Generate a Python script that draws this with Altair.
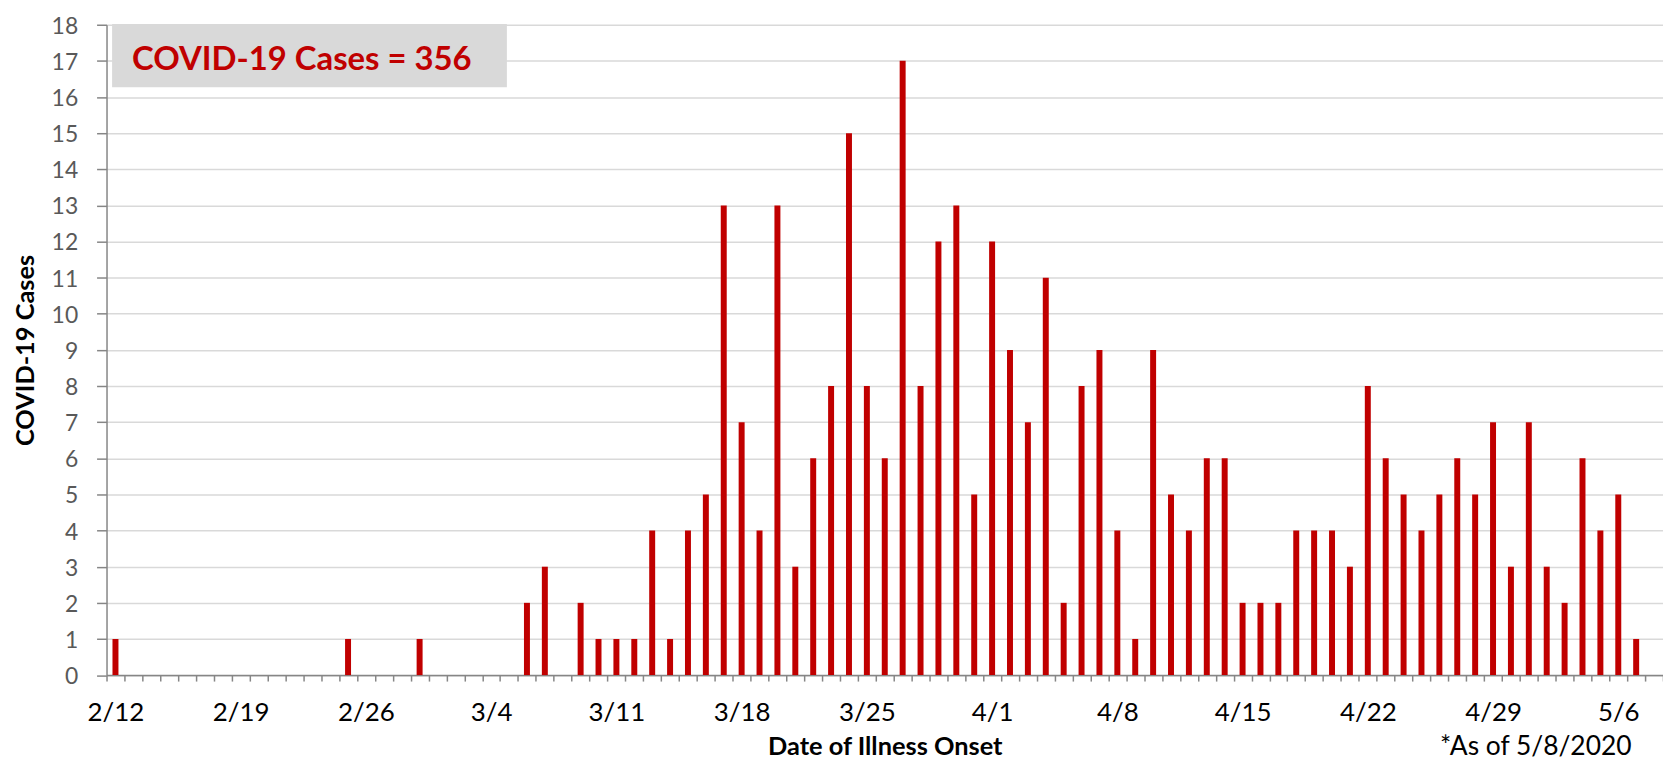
import json
import altair as alt
import pandas as pd

# Categories: date of illness onset, 2/12/2020 through 5/8/2020 (one per day)
dates = [d.strftime("%-m/%-d") for d in pd.date_range("2020-02-12", "2020-05-08", freq="D")]

# Daily case counts
cases = [
    1, 0, 0, 0, 0, 0, 0, 0, 0, 0, 0, 0, 0,          # 2/12 - 2/24
    1, 0, 0, 0, 1,                                   # 2/25 - 2/29
    0, 0, 0, 0, 0,                                   # 3/1 - 3/5
    2, 3, 0, 2, 1, 1, 1, 4, 1, 4, 5, 13, 7, 4, 13,   # 3/6 - 3/20
    3, 6, 8, 15, 8, 6, 17, 8, 12, 13, 5,             # 3/21 - 3/31
    12, 9, 7, 11, 2, 8, 9, 4, 1, 9, 5, 4, 6, 6, 2,   # 4/1 - 4/15
    2, 2, 4, 4, 4, 3, 8, 6, 5, 4, 5, 6, 5, 7, 3,     # 4/16 - 4/30
    7, 3, 2, 6, 4, 5, 1, 0,                          # 5/1 - 5/8
]

y_ticks = list(range(0, 19))
shown_labels = dates[::7]  # 2/12, 2/19, ... 5/6

title_text = f"COVID-19 Cases = {sum(cases)}"
note_text = "*As of 5/8/2020"

df = pd.DataFrame({"date": dates, "cases": cases})

FONT = "Lato"
AXIS_GRAY = "#868686"
W, H = 1564, 653.5

label_expr = f"indexof({json.dumps(shown_labels)}, datum.value) >= 0 ? datum.value : ''"

bars = alt.Chart(df).mark_bar(size=6, color="#c00000").encode(
    x=alt.X(
        "date:N",
        sort=dates,
        scale=alt.Scale(domain=dates, paddingInner=0, paddingOuter=0),
        axis=alt.Axis(
            title="Date of Illness Onset",
            titleFont=FONT,
            titleFontSize=25.5,
            titleFontWeight="bold",
            titleColor="#000000",
            titleBaseline="alphabetic",
            titleY=80,
            labelExpr=label_expr,
            labelAngle=0,
            labelOverlap=False,
            labelFont=FONT,
            labelFontSize=26,
            labelColor="#000000",
            labelBaseline="top",
            labelPadding=19,
            tickBand="extent",
            tickSize=6,
            tickColor=AXIS_GRAY,
            tickWidth=1.5,
            domainColor=AXIS_GRAY,
            domainWidth=1.5,
            grid=False,
        ),
    ),
    y=alt.Y(
        "cases:Q",
        scale=alt.Scale(domain=[0, 18], nice=False),
        axis=alt.Axis(
            title="COVID-19 Cases",
            titleFont=FONT,
            titleFontSize=25.5,
            titleFontWeight="bold",
            titleColor="#000000",
            titleBaseline="alphabetic",
            titleX=-73.7,
            titleY=H / 2,
            values=y_ticks,
            labelFont=FONT,
            labelFontSize=23,
            labelColor="#595959",
            labelBaseline="alphabetic",
            labelOffset=8.5,
            labelPadding=19,
            tickSize=10,
            tickColor=AXIS_GRAY,
            tickWidth=1.5,
            domainColor=AXIS_GRAY,
            domainWidth=1.5,
            grid=True,
            gridColor="#d9d9d9",
            gridWidth=1.5,
        ),
    ),
)

one = pd.DataFrame({"title": [title_text], "note": [note_text]})

box = alt.Chart(one).mark_rect(color="#d9d9d9").encode(
    x=alt.value(5.6), x2=alt.value(402.3), y=alt.value(-0.7), y2=alt.value(62.7)
)

box_text = alt.Chart(one).mark_text(
    align="left", baseline="alphabetic", font=FONT, fontSize=33,
    fontWeight="bold", color="#c00000",
).encode(x=alt.value(25.6), y=alt.value(45.3), text="title:N")

note = alt.Chart(one).mark_text(
    align="left", baseline="alphabetic", font=FONT, fontSize=26.5, color="#000000",
).encode(x=alt.value(1340), y=alt.value(733.5), text="note:N")

chart = alt.layer(bars, box, box_text, note).properties(
    width=W,
    height=H,
    padding={"left": 99, "top": 15, "right": 0, "bottom": 85.5},
    autosize=alt.AutoSizeParams(type="none"),
    background="#ffffff",
).configure_view(strokeWidth=0)

chart.save("out.html", embed_options={"renderer": "svg", "actions": False})
